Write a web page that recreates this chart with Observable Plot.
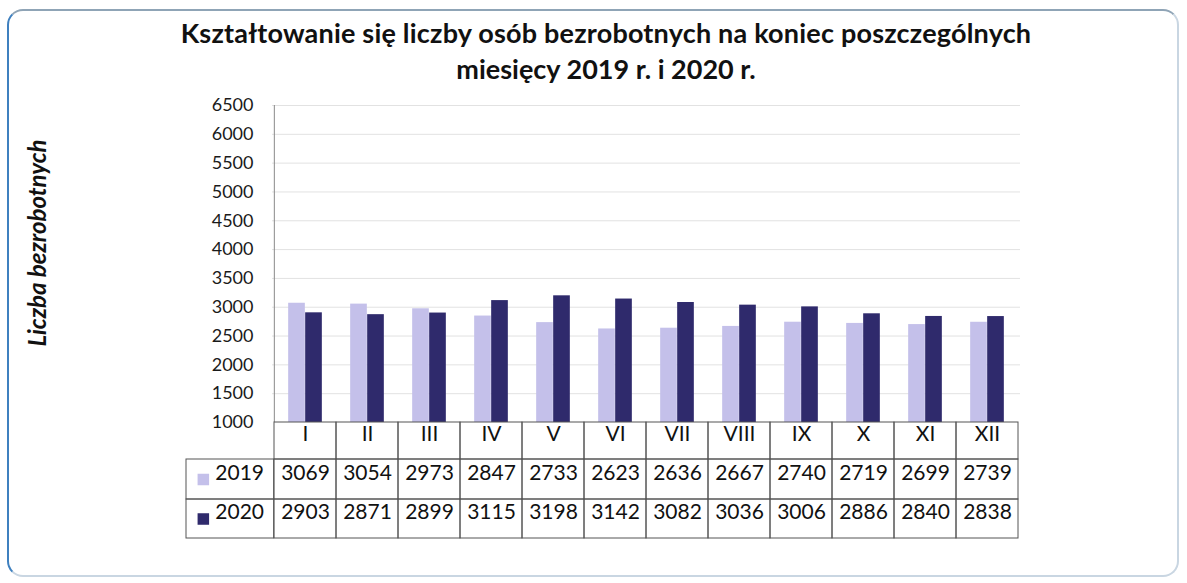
<!DOCTYPE html>
<html>
<head>
<meta charset="utf-8">
<script src="https://cdn.jsdelivr.net/npm/d3@7"></script>
<script src="https://cdn.jsdelivr.net/npm/@observablehq/plot@0.6"></script>
<style>
  html, body { margin: 0; padding: 0; background: #fff; }
  #wrap { position: relative; width: 1187px; height: 583px; overflow: hidden; font-family: Lato, "Open Sans", sans-serif; }
  #frame { position: absolute; left: 7px; top: 9px; width: 1172px; height: 568px; box-sizing: border-box;
    border: 2px solid #c9d6e2; border-left-color: #3f80bf; border-top-color: #8fa4b6; border-radius: 16px; }
  #title { position: absolute; left: 606px; top: 15px; transform: translateX(-50%); white-space: nowrap;
    text-align: center; font-weight: bold; font-size: 27px; line-height: 36px; color: #111; }
  #title .l1 { letter-spacing: 0.2px; }
  #chart { position: absolute; left: 0; top: 0; }
</style>
</head>
<body>
<div id="wrap">
  <div id="frame"></div>
  <div id="title"><span class="l1">Kształtowanie się liczby osób bezrobotnych na koniec poszczególnych</span><br>miesięcy 2019 r. i 2020 r.</div>
  <div id="chart"></div>
</div>
<script>
const months = ["I", "II", "III", "IV", "V", "VI", "VII", "VIII", "IX", "X", "XI", "XII"];
const values2019 = [3069, 3054, 2973, 2847, 2733, 2623, 2636, 2667, 2740, 2719, 2699, 2739];
const values2020 = [2903, 2871, 2899, 3115, 3198, 3142, 3082, 3036, 3006, 2886, 2840, 2838];
const years = ["2019", "2020"];
const yearColors = ["#c4c0ea", "#2f2a6c"];
const yTicks = [1000, 1500, 2000, 2500, 3000, 3500, 4000, 4500, 5000, 5500, 6000, 6500];
const yLabel = "Liczba bezrobotnych";

const rows2019 = months.map((m, i) => ({month: m, value: values2019[i]}));
const rows2020 = months.map((m, i) => ({month: m, value: values2020[i]}));

const W = 1187, H = 583, mL = 272, mR = 167, mT = 105, mB = 161;
const bw = (W - mL - mR) / months.length;
const barW = 17;
const base = yTicks[0];
const lineColor = "#555";
const textColor = "#111";
const tableFont = 21;
const rowH = [37, 40, 39];

const cellRow = (dy, h) => Plot.barY(months, {x: d => d, y1: base, y2: base, dy, insetBottom: -h, fill: "none", stroke: lineColor, strokeWidth: 1});
const legendCell = (dy, h) => Plot.barY([months[0]], {x: d => d, y1: base, y2: base, dy, insetLeft: -88, insetRight: bw, insetBottom: -h, fill: "none", stroke: lineColor, strokeWidth: 1});
const rowMid = [rowH[0] / 2, rowH[0] + rowH[1] / 2, rowH[0] + rowH[1] + rowH[2] / 2];

const plot = Plot.plot({
  width: W, height: H,
  marginTop: mT, marginBottom: mB, marginLeft: mL, marginRight: mR,
  style: {fontFamily: "Lato, 'Open Sans', sans-serif", fontSize: "18px", color: "#1a1a1a", background: "transparent", overflow: "visible"},
  x: {domain: months, padding: 0, axis: null},
  y: {domain: [yTicks[0], yTicks[yTicks.length - 1]], ticks: yTicks, tickFormat: d => String(d), tickSize: 0, tickPadding: 19, label: null},
  marks: [
    Plot.gridY(yTicks.slice(1), {stroke: "#e2e2e2", strokeOpacity: 1}),
    Plot.barY(rows2019, {x: "month", y1: base, y2: "value", fill: yearColors[0], insetLeft: bw / 2 - barW, insetRight: bw / 2}),
    Plot.barY(rows2020, {x: "month", y1: base, y2: "value", fill: yearColors[1], insetLeft: bw / 2, insetRight: bw / 2 - barW}),
    Plot.ruleX([months[0]], {x: d => d, dx: -bw / 2, stroke: "#8a8a8a"}),
    // data table
    cellRow(0, rowH[0]),
    cellRow(rowH[0], rowH[1]),
    cellRow(rowH[0] + rowH[1], rowH[2]),
    legendCell(rowH[0], rowH[1]),
    legendCell(rowH[0] + rowH[1], rowH[2]),
    Plot.text(months, {x: d => d, text: d => d, frameAnchor: "bottom", dy: rowMid[0], fontSize: tableFont, fill: textColor}),
    Plot.text(rows2019, {x: "month", text: d => String(d.value), frameAnchor: "bottom", dy: rowMid[1], fontSize: tableFont, fill: textColor}),
    Plot.text(rows2020, {x: "month", text: d => String(d.value), frameAnchor: "bottom", dy: rowMid[2], fontSize: tableFont, fill: textColor}),
    Plot.text([years[0]], {x: () => months[0], text: d => d, frameAnchor: "bottom", dy: rowMid[1], dx: -bw / 2 - 59, textAnchor: "start", fontSize: tableFont, fill: textColor}),
    Plot.text([years[1]], {x: () => months[0], text: d => d, frameAnchor: "bottom", dy: rowMid[2], dx: -bw / 2 - 59, textAnchor: "start", fontSize: tableFont, fill: textColor}),
    Plot.dot([years[0]], {x: () => months[0], frameAnchor: "bottom", dy: rowMid[1], dx: -bw / 2 - 71, symbol: "square", r: 6.5, fill: yearColors[0]}),
    Plot.dot([years[1]], {x: () => months[0], frameAnchor: "bottom", dy: rowMid[2], dx: -bw / 2 - 71, symbol: "square", r: 6.5, fill: yearColors[1]}),
    // rotated axis label
    Plot.text([yLabel], {text: d => d, frameAnchor: "left", textAnchor: "middle", dx: -234, dy: -21, rotate: -90, fontSize: 24, fontWeight: "bold", fontStyle: "italic", fill: textColor})
  ]
});
document.getElementById("chart").appendChild(plot);
</script>
</body>
</html>
